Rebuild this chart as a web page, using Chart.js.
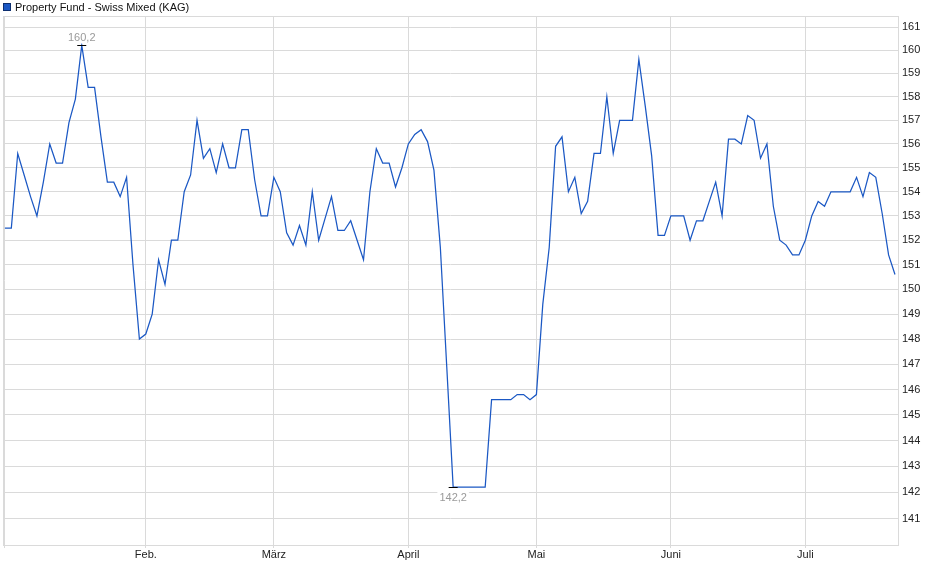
<!DOCTYPE html>
<html><head><meta charset="utf-8">
<script src="https://cdn.jsdelivr.net/npm/chart.js@4"></script>
<style>html,body{margin:0;padding:0;background:#fff}#wrap{width:940px;height:579px;position:relative}</style>
</head><body><div id="wrap"><canvas id="c"></canvas></div>
<script>
const seriesName = 'Property Fund - Swiss Mixed (KAG)';
const firstDay = '2025-01-02';
const lastDay = '2025-07-21';
const holidays = ['2025-04-18', '2025-04-21', '2025-05-29'];
const values = [
  152.5, 152.5, 155.6, 154.7, 153.8, 153.0, 154.4, 156.0, 155.2, 155.2,
  156.9, 157.9, 160.2, 158.4, 158.4, 156.3, 154.4, 154.4, 153.8, 154.6,
  151.0, 148.0, 148.2, 149.0, 151.2, 150.2, 152.0, 152.0, 154.0, 154.7,
  157.0, 155.4, 155.8, 154.8, 156.0, 155.0, 155.0, 156.6, 156.6, 154.5,
  153.0, 153.0, 154.6, 154.0, 152.3, 151.8, 152.6, 151.8, 154.0, 152.0,
  152.9, 153.8, 152.4, 152.4, 152.8, 152.0, 151.2, 154.0, 155.8, 155.2,
  155.2, 154.2, 155.0, 156.0, 156.4, 156.6, 156.1, 154.9, 151.7, 146.9,
  142.2, 142.2, 142.2, 142.2, 142.2, 142.2, 145.6, 145.6, 145.6, 145.6,
  145.8, 145.8, 145.6, 145.8, 149.4, 151.7, 155.9, 156.3, 154.0, 154.6,
  153.1, 153.6, 155.6, 155.6, 158.0, 155.6, 157.0, 157.0, 157.0, 159.6,
  157.6, 155.5, 152.2, 152.2, 153.0, 153.0, 153.0, 152.0, 152.8, 152.8,
  153.6, 154.4, 153.0, 156.2, 156.2, 156.0, 157.2, 157.0, 155.4, 156.0,
  153.4, 152.0, 151.8, 151.4, 151.4, 152.0, 153.0, 153.6, 153.4, 154.0,
  154.0, 154.0, 154.0, 154.6, 153.8, 154.8, 154.6, 153.1, 151.4, 150.6
];
const monthNames = ['Jan.', 'Feb.', 'März', 'April', 'Mai', 'Juni', 'Juli'];
const yTicks = [141,142,143,144,145,146,147,148,149,150,151,152,153,154,155,156,157,158,159,160,161];

// trading-day categories
const dates = [];
for (let d = new Date(firstDay + 'T12:00:00Z'); d <= new Date(lastDay + 'T12:00:00Z'); d.setUTCDate(d.getUTCDate() + 1)) {
  const iso = d.toISOString().slice(0, 10);
  const wd = d.getUTCDay();
  if (wd !== 0 && wd !== 6 && !holidays.includes(iso)) dates.push(iso);
}
const monthStartIdx = [];
dates.forEach((iso, i) => {
  if (i === 0 || iso.slice(5, 7) !== dates[i - 1].slice(5, 7)) monthStartIdx.push(i);
});
const xTickLabel = (v) => {
  if (v === 0) return '';
  const m = parseInt(dates[v].slice(5, 7), 10) - 1;
  return monthNames[m];
};

const lineColor = '#1b58c4';
const gridColor = '#dadada';

const framePlugin = {
  id: 'frame',
  beforeDatasetsDraw(chart) {
    const {ctx, chartArea: a} = chart;
    ctx.save();
    ctx.strokeStyle = gridColor;
    ctx.lineWidth = 1;
    ctx.strokeRect(Math.round(a.left) + 0.5, Math.round(a.top) + 0.5, Math.round(a.right - a.left), Math.round(a.bottom - a.top));
    ctx.restore();
  },
  afterDraw(chart) {
    const {ctx} = chart;
    ctx.save();
    // legend
    ctx.fillStyle = lineColor;
    ctx.fillRect(3, 3, 8, 8);
    ctx.strokeStyle = '#0d2f70';
    ctx.lineWidth = 1;
    ctx.strokeRect(3.5, 3.5, 7, 7);
    ctx.fillStyle = '#111';
    ctx.font = '11px "Liberation Sans", Arial, sans-serif';
    ctx.textBaseline = 'middle';
    ctx.textAlign = 'left';
    ctx.fillText(seriesName, 15, 7.5);
    // min / max markers
    const xs = chart.scales.x, ys = chart.scales.y;
    let iMax = 0, iMin = 0;
    values.forEach((v, i) => { if (v > values[iMax]) iMax = i; if (v < values[iMin]) iMin = i; });
    const fmt = v => v.toFixed(1).replace('.', ',');
    const mark = (i, above) => {
      const px = xs.getPixelForValue(i), py = Math.round(ys.getPixelForValue(values[i])) + 0.5;
      const txt = fmt(values[i]);
      const w = ctx.measureText(txt).width;
      const ty = above ? py - 8 : py + 10.5;
      ctx.fillStyle = '#fff';
      ctx.fillRect(px - w / 2 - 2, ty - 6, w + 4, 12);
      ctx.fillStyle = '#9a9a9a';
      ctx.textAlign = 'center';
      ctx.textBaseline = 'middle';
      ctx.fillText(txt, px, ty);
      ctx.strokeStyle = '#000';
      ctx.lineWidth = 1;
      ctx.beginPath();
      ctx.moveTo(px - 4.5, py);
      ctx.lineTo(px + 4.5, py);
      ctx.stroke();
    };
    mark(iMax, true);
    mark(iMin, false);
    ctx.restore();
  }
};

new Chart(document.getElementById('c'), {
  type: 'line',
  data: {
    labels: dates,
    datasets: [{
      label: seriesName,
      data: values.map((v, i) => ({x: i, y: v})),
      borderColor: lineColor,
      backgroundColor: lineColor,
      borderWidth: 1.25,
      pointRadius: 0,
      tension: 0,
      fill: false
    }]
  },
  options: {
    responsive: true,
    maintainAspectRatio: false,
    animation: false,
    devicePixelRatio: 1,
    layout: {padding: {top: 16, left: 3, right: 0, bottom: 0}},
    plugins: {legend: {display: false}, tooltip: {enabled: false}},
    scales: {
      x: {
        type: 'linear',
        min: -0.3,
        max: dates.length - 1 + 0.47,
        afterBuildTicks: (s) => { s.ticks = monthStartIdx.map(v => ({value: v})); },
        afterFit: (s) => { s.height = 34; },
        ticks: {
          autoSkip: false,
          maxRotation: 0,
          padding: 0,
          color: '#222',
          font: {family: '"Liberation Sans", Arial, sans-serif', size: 11},
          callback: (v) => xTickLabel(v)
        },
        grid: {color: gridColor, lineWidth: 1, tickLength: 3, drawOnChartArea: true},
        border: {display: true, color: gridColor}
      },
      y: {
        type: 'logarithmic',
        position: 'right',
        min: 140,
        max: 161.48,
        afterBuildTicks: (s) => { s.ticks = yTicks.map(v => ({value: v})); },
        afterFit: (s) => { s.width = 42; },
        ticks: {
          padding: 4,
          color: '#222',
          font: {family: '"Liberation Sans", Arial, sans-serif', size: 11},
          callback: (v) => String(v)
        },
        grid: {color: gridColor, lineWidth: 1, drawTicks: false},
        border: {display: true, color: gridColor}
      }
    }
  },
  plugins: [framePlugin]
});
</script></body></html>
